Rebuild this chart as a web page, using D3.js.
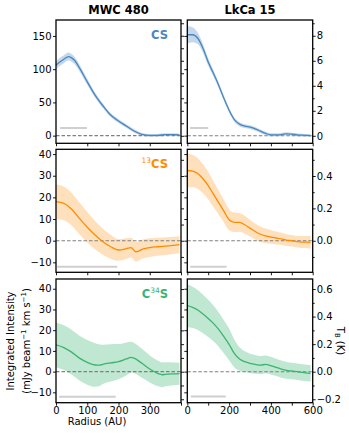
<!DOCTYPE html>
<html>
<head>
<meta charset="utf-8">
<script src="https://cdn.jsdelivr.net/npm/d3@7"></script>
<style>
  body { margin: 0; background: #fff; }
  svg { font-family: "DejaVu Sans", sans-serif; }
</style>
</head>
<body>
<div id="chart"></div>
<script>
// radius samples (AU)
const mwcR = [0, 10, 25, 40, 50, 60, 75, 100, 125, 150, 175, 200, 225, 250, 275, 300, 325, 350, 375, 395];
const mwc13R = [0, 25, 50, 75, 100, 125, 150, 175, 200, 225, 240, 255, 265, 275, 300, 325, 350, 375, 395];
const mwc34R = [0, 25, 50, 75, 100, 125, 140, 150, 175, 200, 225, 240, 250, 275, 300, 325, 340, 350, 375, 395];
const lkcaR = [0, 25, 50, 75, 100, 125, 150, 175, 200, 225, 250, 275, 300, 325, 350, 375, 400, 425, 450, 475, 500, 525, 550, 575, 590];

// MWC 480 (mJy/beam km/s)
const mwcCs = [106, 110, 115, 119, 117, 113, 102, 81, 61, 45, 31, 22, 14.5, 7, 2, 0.5, 0.5, 1.5, 1.5, 1];
const mwcCsErr = [6, 6, 6, 6, 6, 5.5, 5, 4.5, 4, 3.5, 3, 3, 2.5, 2.5, 2, 2, 2, 2, 2, 2];
const mwc13cs = [18, 17.2, 14.5, 10.3, 6.2, 2.6, -0.5, -2.8, -4.3, -3.7, -3.2, -5.1, -4.8, -4.0, -3.2, -2.8, -2.5, -2.2, -1.8];
const mwc13csErr = [8, 7.8, 7.5, 7.3, 7, 6.5, 6, 5.5, 5, 4.8, 4.6, 4.5, 4.5, 4.4, 4.3, 4.2, 4.1, 4, 3.9];
const mwc34s = [12.9, 11.6, 9.4, 6.5, 4.5, 3.2, 3.1, 3.5, 4.2, 4.8, 6.1, 6.9, 6.5, 4.0, 1.3, -0.8, -1.5, -1.3, -1.1, -1];
const mwc34sErr = [10.8, 10.8, 10.8, 10.8, 10.8, 10.5, 10, 9.5, 9, 8.5, 8, 7.5, 7.3, 7, 6.5, 6.2, 6, 5.8, 5.5, 5.3];

// LkCa 15 (K)
const lkcaCs = [8.08, 8.08, 7.8, 7.0, 5.9, 5.0, 4.05, 3.0, 2.05, 1.3, 0.93, 0.77, 0.69, 0.56, 0.37, 0.19, 0.08, 0.08, 0.1, 0.16, 0.13, 0.08, 0.05, 0.03, 0.02];
const lkcaCsErr = [0.7, 0.6, 0.45, 0.35, 0.3, 0.25, 0.22, 0.2, 0.18, 0.17, 0.16, 0.15, 0.15, 0.15, 0.14, 0.13, 0.12, 0.12, 0.12, 0.12, 0.12, 0.12, 0.11, 0.11, 0.11];
const lkca13cs = [0.434, 0.43, 0.415, 0.383, 0.341, 0.288, 0.236, 0.183, 0.13, 0.114, 0.114, 0.099, 0.078, 0.057, 0.04, 0.03, 0.023, 0.017, 0.011, 0.004, 0, -0.006, -0.008, -0.008, -0.01];
const lkca13csErr = [0.105, 0.1, 0.095, 0.09, 0.085, 0.08, 0.075, 0.07, 0.065, 0.06, 0.058, 0.055, 0.052, 0.05, 0.048, 0.045, 0.042, 0.04, 0.038, 0.036, 0.035, 0.036, 0.037, 0.038, 0.04];
const lkca34s = [0.479, 0.467, 0.448, 0.419, 0.387, 0.351, 0.307, 0.254, 0.199, 0.133, 0.092, 0.073, 0.061, 0.053, 0.048, 0.053, 0.044, 0.031, 0.019, 0.01, 0.005, 0, -0.005, -0.01, -0.012];
const lkca34sErr = [0.155, 0.15, 0.145, 0.14, 0.135, 0.13, 0.125, 0.12, 0.115, 0.1, 0.085, 0.075, 0.07, 0.068, 0.066, 0.065, 0.064, 0.063, 0.062, 0.061, 0.06, 0.06, 0.06, 0.06, 0.06];

// beam bars [start AU, end AU, height]
const mwcBeams = [[13, 99, 11.6], [4, 196, -12], [10, 191, -12.1]];
const lkcaBeams = [[13, 100, 0.62], [14, 188, -0.16], [17, 184, -0.18]];

const leftTicks = [[0, 50, 100, 150], [-10, 0, 10, 20, 30, 40], [-10, 0, 10, 20, 30, 40]];
const rightTicks = [[0, 2, 4, 6, 8], [0, 0.2, 0.4], [-0.2, 0, 0.2, 0.4, 0.6]];
const rightMinor = [[1, 3, 5, 7, 9], [-0.1, 0.1, 0.3, 0.5], [-0.1, 0.1, 0.3, 0.5]];

const titles = ["MWC 480", "LkCa 15"];

const zip = (r, v, e) => r.map((d, i) => ({ r: d, v: v[i], e: e[i] }));

const rows = [
  { mol: ["", "C", "", "S"], color: "#4a86c0", fill: "#4a86c0",
    leftDomain: [-11.5, 174], rightDomain: [-0.6, 9.26], fmt: d3.format("d"),
    left: zip(mwcR, mwcCs, mwcCsErr), right: zip(lkcaR, lkcaCs, lkcaCsErr) },
  { mol: ["13", "CS", "", ""], color: "#ff8c00", fill: "#ff9f2e",
    leftDomain: [-14.6, 42.2], rightDomain: [-0.195, 0.565], fmt: d3.format(".1f"),
    left: zip(mwc13R, mwc13cs, mwc13csErr), right: zip(lkcaR, lkca13cs, lkca13csErr) },
  { mol: ["", "C", "34", "S"], color: "#3cb371", fill: "#3cb371",
    leftDomain: [-15, 44.7], rightDomain: [-0.225, 0.673], fmt: d3.format(".1f"),
    left: zip(mwc34R, mwc34s, mwc34sErr), right: zip(lkcaR, lkca34s, lkca34sErr) }
];

const colsX = [[56, 181], [187.3, 312.7]];
const rowsY = [[20, 143.3], [149.3, 272.3], [279, 402.7]];

const svg = d3.select("#chart")
  .append("svg")
  .attr("width", 349)
  .attr("height", 433);

const xLeft = d3.scaleLinear().domain([0, 400]).range(colsX[0]);
const xRight = d3.scaleLinear().domain([0, 600]).range(colsX[1]);

function styleAxis(g) {
  g.select(".domain").remove();
  g.selectAll("text").attr("font-size", 10).attr("font-family", "DejaVu Sans, sans-serif").attr("fill", "#000");
  g.selectAll("line").attr("stroke", "#000").attr("stroke-width", 0.9);
  g.attr("font-family", null).attr("font-size", null);
}

rows.forEach((row, ri) => {
  const [y0, y1] = rowsY[ri];
  const yL = d3.scaleLinear().domain(row.leftDomain).range([y1, y0]);
  const yR = d3.scaleLinear().domain(row.rightDomain).range([y1, y0]);
  const bottom = ri === rows.length - 1;

  [0, 1].forEach(ci => {
    const x = ci === 0 ? xLeft : xRight;
    const y = ci === 0 ? yL : yR;
    const data = ci === 0 ? row.left : row.right;
    const beam = ci === 0 ? mwcBeams[ri] : lkcaBeams[ri];
    const [xa, xb] = colsX[ci];
    const id = `clip-${ri}-${ci}`;

    svg.append("clipPath").attr("id", id)
      .append("rect")
      .attr("x", xa).attr("y", y0)
      .attr("width", xb - xa).attr("height", y1 - y0);

    const g = svg.append("g").attr("clip-path", `url(#${id})`);

    g.append("path")
      .datum(data)
      .attr("fill", row.fill)
      .attr("fill-opacity", 0.32)
      .attr("d", d3.area()
        .curve(d3.curveMonotoneX)
        .x(d => x(d.r))
        .y0(d => y(d.v - d.e))
        .y1(d => y(d.v + d.e)));

    g.append("line")
      .attr("x1", xa).attr("x2", xb)
      .attr("y1", y(0)).attr("y2", y(0))
      .attr("stroke", "#808080")
      .attr("stroke-width", 1.1)
      .attr("stroke-dasharray", "3.5,2");

    g.append("path")
      .datum(data)
      .attr("fill", "none")
      .attr("stroke", row.color)
      .attr("stroke-width", 1.3)
      .attr("d", d3.line()
        .curve(d3.curveMonotoneX)
        .x(d => x(d.r))
        .y(d => y(d.v)));

    g.append("line")
      .attr("x1", x(beam[0])).attr("x2", x(beam[1]))
      .attr("y1", y(beam[2])).attr("y2", y(beam[2]))
      .attr("stroke", "#cfcfcf")
      .attr("stroke-width", 2);

    // y ticks on both spines
    if (ci === 0) {
      svg.append("g")
        .attr("transform", `translate(${xa},0)`)
        .call(d3.axisLeft(yL).tickValues(leftTicks[ri]).tickSize(3).tickPadding(1.5).tickFormat(d3.format("d")))
        .call(styleAxis);
      svg.append("g")
        .attr("transform", `translate(${xb},0)`)
        .call(d3.axisRight(yR).tickValues(rightTicks[ri].concat(rightMinor[ri])).tickSize(3).tickFormat(""))
        .call(styleAxis);
    } else {
      svg.append("g")
        .attr("transform", `translate(${xa},0)`)
        .call(d3.axisLeft(yL).tickValues(leftTicks[ri]).tickSize(3).tickFormat(""))
        .call(styleAxis);
      svg.append("g")
        .attr("transform", `translate(${xb},0)`)
        .call(d3.axisRight(yR).tickValues(rightTicks[ri]).tickSize(3).tickPadding(1).tickFormat(row.fmt))
        .call(styleAxis);
      svg.append("g")
        .attr("transform", `translate(${xb},0)`)
        .call(d3.axisRight(yR).tickValues(rightMinor[ri]).tickSize(2).tickFormat(""))
        .call(styleAxis);
    }

    // x ticks
    const xTicks = ci === 0 ? [0, 100, 200, 300, 400] : [0, 100, 200, 300, 400, 500, 600];
    const xLabels = ci === 0 ? [0, 100, 200, 300] : [0, 200, 400, 600];
    svg.append("g")
      .attr("transform", `translate(0,${y1})`)
      .call(d3.axisBottom(x).tickValues(xTicks).tickSize(3).tickPadding(1)
        .tickFormat(d => bottom && xLabels.includes(d) ? d : ""))
      .call(styleAxis);

    svg.append("rect")
      .attr("x", xa).attr("y", y0)
      .attr("width", xb - xa).attr("height", y1 - y0)
      .attr("fill", "none")
      .attr("stroke", "#000")
      .attr("stroke-width", 1.3);
  });

  // molecule label
  const lab = svg.append("text")
    .attr("x", 168).attr("y", y0 + 19)
    .attr("text-anchor", "end")
    .attr("fill", row.color)
    .attr("font-weight", "bold")
    .attr("font-size", 11.5);
  lab.append("tspan").attr("font-size", 7.5).attr("font-weight", "normal").attr("dy", row.mol[0] ? -5 : 0).text(row.mol[0]);
  lab.append("tspan").attr("dy", row.mol[0] ? 5 : 0).text(row.mol[1]);
  if (row.mol[2]) {
    lab.append("tspan").attr("font-size", 7.5).attr("font-weight", "normal").attr("dy", -5).text(row.mol[2]);
    lab.append("tspan").attr("dy", 5).text(row.mol[3]);
  } else if (row.mol[3]) {
    lab.append("tspan").text(row.mol[3]);
  }
});

// titles
titles.forEach((t, i) => {
  svg.append("text")
    .attr("x", (colsX[i][0] + colsX[i][1]) / 2)
    .attr("y", 14)
    .attr("text-anchor", "middle")
    .attr("font-weight", "bold")
    .attr("font-size", 11.5)
    .text(t);
});

// axis labels
svg.append("text")
  .attr("x", 97).attr("y", 425)
  .attr("text-anchor", "middle")
  .attr("font-size", 10)
  .text("Radius (AU)");

const yl = svg.append("text")
  .attr("transform", "translate(14,341) rotate(-90)")
  .attr("text-anchor", "middle")
  .attr("font-size", 10);
yl.append("tspan").attr("x", 0).attr("dy", 0).text("Integrated Intensity");
const yl2 = yl.append("tspan").attr("x", 0).attr("dy", 15.5);
yl2.append("tspan").text("(mJy beam");
yl2.append("tspan").attr("font-size", 7).attr("dy", -4).text("\u22121");
yl2.append("tspan").attr("dy", 4).text(" km s");
yl2.append("tspan").attr("font-size", 7).attr("dy", -4).text("\u22121");
yl2.append("tspan").attr("dy", 4).text(")");

const tb = svg.append("text")
  .attr("transform", "translate(337,341) rotate(90)")
  .attr("text-anchor", "middle")
  .attr("font-size", 10);
tb.append("tspan").text("T");
tb.append("tspan").attr("font-size", 7).attr("dy", 2.5).text("B");
tb.append("tspan").attr("dy", -2.5).text(" (K)");
</script>
</body>
</html>
